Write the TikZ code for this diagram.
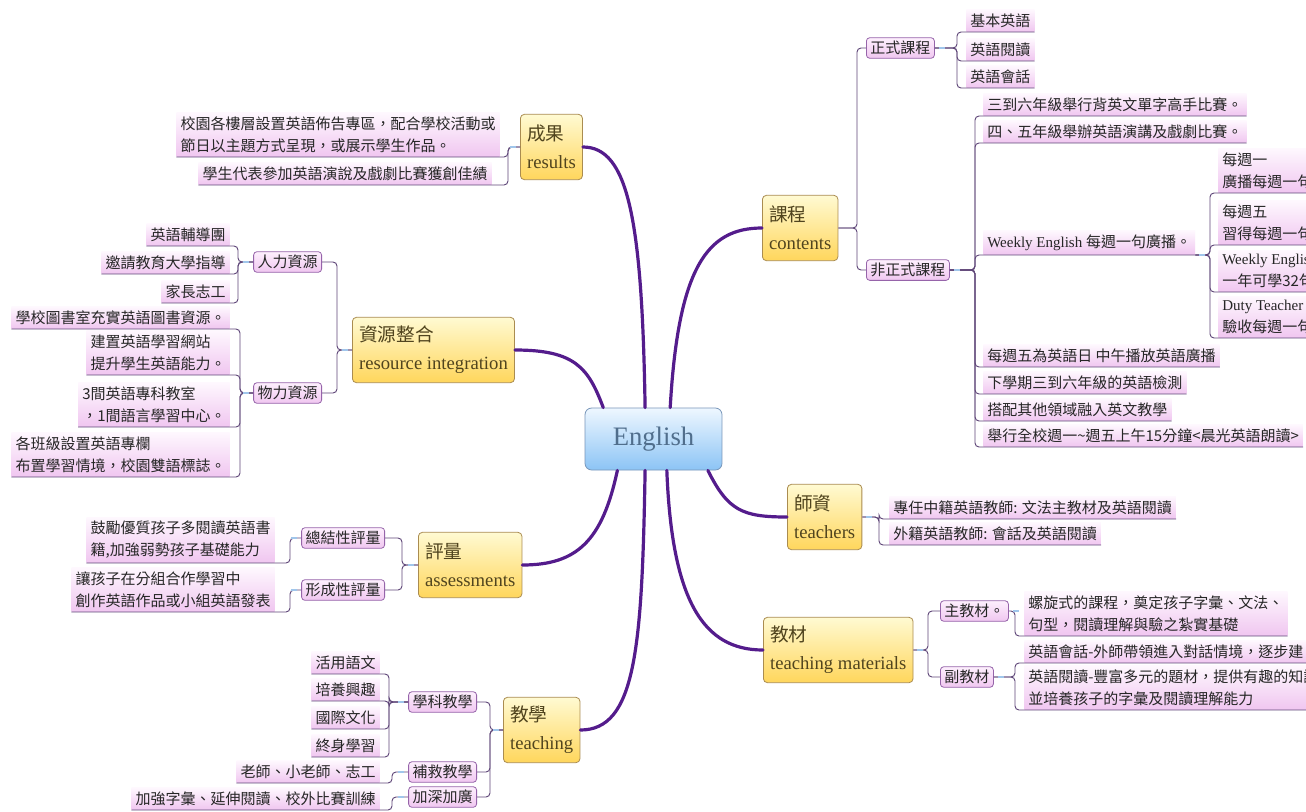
\documentclass[tikz,border=0pt]{standalone}
\usepackage{fontspec}
\setmainfont{Liberation Serif}
\newfontfamily\cjk{Noto Sans CJK TC}
\definecolor{trunk}{RGB}{84,28,140}
\definecolor{brc}{RGB}{95,70,120}
\definecolor{ytop}{RGB}{255,250,210}
\definecolor{ybot}{RGB}{255,214,92}
\definecolor{ybord}{RGB}{170,140,80}
\definecolor{ytext}{RGB}{80,68,30}
\definecolor{ctop}{RGB}{238,247,255}
\definecolor{cbot}{RGB}{140,196,245}
\definecolor{cbord}{RGB}{120,150,185}
\definecolor{ctext}{RGB}{80,110,140}
\definecolor{ptop}{RGB}{253,240,253}
\definecolor{pbot}{RGB}{240,198,240}
\definecolor{sbord}{RGB}{150,100,170}
\definecolor{mkc}{RGB}{160,198,235}
\tikzset{
  trunkline/.style={draw=trunk, line width=2.4pt, line cap=round},
  brline/.style={draw=brc, line width=0.7pt, rounded corners=3pt},
  mk/.style={draw=mkc, line width=2pt},
  ybox/.style={draw=ybord, line width=0.6pt, rounded corners=3pt, top color=ytop, bottom color=ybot,
    align=left, inner xsep=5pt, inner ysep=4pt, minimum height=49pt,
    font=\fontsize{14}{21}\selectfont, text=ytext},
  cbox/.style={draw=cbord, line width=0.6pt, rounded corners=5pt, top color=ctop, bottom color=cbot,
    minimum width=102.75pt, minimum height=46.5pt, font=\fontsize{20}{24}\selectfont, text=ctext},
  sbox/.style={draw=sbord, line width=0.6pt, rounded corners=2.5pt, top color=ptop, bottom color=pbot,
    inner xsep=3pt, inner ysep=2.5pt, font=\cjk\fontsize{11.25}{16}\selectfont, text=black!85},
  leaf/.style={top color=ptop!50, bottom color=pbot, inner xsep=3pt, inner ysep=3pt, align=left,
    font=\cjk\fontsize{11.25}{16.5}\selectfont, text=black!85},
  rleaf/.style={leaf, anchor=south west},
  lleaf/.style={leaf, anchor=south east}
}
\begin{document}
\begin{tikzpicture}[x=0.75pt, y=-0.75pt]
\path[use as bounding box] (0,0) rectangle (1306,811);
\clip (0,0) rectangle (1306,811);
\fill[white] (0,0) rectangle (1306,811);

% ---------- centre and main branches ----------
\node[cbox] (eng) at (653.5,439) {English};
\node[ybox, anchor=west] (ctn) at (762,228) {{\cjk 課程}\\contents};
\node[ybox, anchor=west] (tch) at (787,517) {{\cjk 師資}\\teachers};
\node[ybox, anchor=west] (mat) at (763,650) {{\cjk 教材}\\teaching materials};
\node[ybox, anchor=west] (rlt) at (520,147) {{\cjk 成果}\\results};
\node[ybox, anchor=west] (rsi) at (352,350) {{\cjk 資源整合}\\resource integration};
\node[ybox, anchor=west] (asm) at (418,565) {{\cjk 評量}\\assessments};
\node[ybox, anchor=west] (tea) at (503,730) {{\cjk 教學}\\teaching};

\draw[trunkline] (eng.148) .. controls +(-15,-40) and +(60,0) .. (rsi.east);
\draw[trunkline] (eng.105) .. controls +(-3,-190) and +(45,0) .. (rlt.east);
\draw[trunkline] (eng.62) .. controls +(8,-140) and +(-55,0) .. (ctn.west);
\draw[trunkline] (eng.330) .. controls +(20,40) and +(-45,0) .. (tch.west);
\draw[trunkline] (eng.293) .. controls +(5,130) and +(-60,0) .. (mat.west);
\draw[trunkline] (eng.255) .. controls +(-3,180) and +(55,0) .. (tea.east);
\draw[trunkline] (eng.221) .. controls +(-15,70) and +(55,0) .. (asm.east);

% ---------- contents ----------
\node[sbox, anchor=west] (fml) at (866,48) {正式課程};
\node[sbox, anchor=west] (ifm) at (866,270) {非正式課程};
\draw[brline] (ctn.east) -- (857,228) |- (fml.west);
\draw[brline] (ctn.east) -- (857,228) |- (ifm.west);

\node[rleaf] (f1) at (966,32) {基本英語};
\node[rleaf] (f2) at (966,61) {英語閱讀};
\node[rleaf] (f3) at (966,88) {英語會話};
\foreach \n in {f1,f2,f3}
  \draw[brline] (fml.east) -- (957,48) |- (\n.south west) -- (\n.south east);

\node[rleaf] (i1) at (983,116) {三到六年級舉行背英文單字高手比賽。};
\node[rleaf] (i2) at (983,143) {四、五年級舉辦英語演講及戲劇比賽。};
\node[rleaf] (i3) at (983,255) {{\rmfamily Weekly English }每週一句廣播。};
\node[rleaf] (i4) at (983,367) {每週五為英語日 中午播放英語廣播};
\node[rleaf] (i5) at (983,394) {下學期三到六年級的英語檢測};
\node[rleaf] (i6) at (983,421) {搭配其他領域融入英文教學};
\node[rleaf] (i7) at (983,447) {舉行全校週一\textasciitilde 週五上午15分鐘<晨光英語朗讀>};
\foreach \n in {i1,i2,i3,i4,i5,i6,i7}
  \draw[brline] (ifm.east) -- (975,270) |- (\n.south west) -- (\n.south east);

\node[rleaf] (w1) at (1218,193) {每週一\\廣播每週一句};
\node[rleaf] (w2) at (1218,245) {每週五\\習得每週一句};
\node[rleaf] (w3) at (1218,292) {{\rmfamily Weekly English}\\一年可學32句};
\node[rleaf] (w4) at (1218,338) {{\rmfamily Duty Teacher}\\驗收每週一句};
\foreach \n in {w1,w2,w3,w4}
  \draw[brline] (i3.south east) -- (1210,255) |- (\n.south west) -- (\n.south east);

% ---------- teachers ----------
\node[rleaf] (t1) at (889,519) {專任中籍英語教師: 文法主教材及英語閱讀};
\node[rleaf] (t2) at (889,545) {外籍英語教師: 會話及英語閱讀};
\foreach \n in {t1,t2}
  \draw[brline] (tch.east) -- (879,517) |- (\n.south west) -- (\n.south east);

% ---------- teaching materials ----------
\node[sbox, anchor=west] (mm) at (940,611) {主教材。};
\node[sbox, anchor=west] (ms) at (940,677) {副教材};
\draw[brline] (mat.east) -- (928,650) |- (mm.west);
\draw[brline] (mat.east) -- (928,650) |- (ms.west);

\node[rleaf] (m1) at (1024,636) {螺旋式的課程，奠定孩子字彙、文法、\\句型，閱讀理解與驗之紮實基礎};
\node[rleaf] (m2) at (1024,663) {英語會話-外師帶領進入對話情境，逐步建};
\node[rleaf] (m3) at (1024,710) {英語閱讀-豐富多元的題材，提供有趣的知識\\並培養孩子的字彙及閱讀理解能力};
\draw[brline] (mm.east) -- (1015,611) |- (m1.south west) -- (m1.south east);
\foreach \n in {m2,m3}
  \draw[brline] (ms.east) -- (1015,677) |- (\n.south west) -- (\n.south east);

% ---------- results ----------
\node[lleaf] (r1) at (500,157) {校園各樓層設置英語佈告專區，配合學校活動或\\節日以主題方式呈現，或展示學生作品。};
\node[lleaf] (r2) at (492,185) {學生代表參加英語演說及戲劇比賽獲創佳績};
\foreach \n in {r1,r2}
  \draw[brline] (rlt.west) -- (508,147) |- (\n.south east) -- (\n.south west);

% ---------- resource integration ----------
\node[sbox, anchor=east] (hr) at (322,262) {人力資源};
\node[sbox, anchor=east] (mr) at (322,393) {物力資源};
\draw[brline] (rsi.west) -- (337,350) |- (hr.east);
\draw[brline] (rsi.west) -- (337,350) |- (mr.east);

\node[lleaf] (h1) at (230,246) {英語輔導團};
\node[lleaf] (h2) at (230,274) {邀請教育大學指導};
\node[lleaf] (h3) at (230,303) {家長志工};
\foreach \n in {h1,h2,h3}
  \draw[brline] (hr.west) -- (238,262) |- (\n.south east) -- (\n.south west);

\node[lleaf] (p1) at (230,329) {學校圖書室充實英語圖書資源。};
\node[lleaf] (p2) at (230,375) {建置英語學習網站\\提升學生英語能力。};
\node[lleaf] (p3) at (230,427) {3間英語專科教室\\，1間語言學習中心。};
\node[lleaf] (p4) at (230,477) {各班級設置英語專欄\\布置學習情境，校園雙語標誌。};
\foreach \n in {p1,p2,p3,p4}
  \draw[brline] (mr.west) -- (240,393) |- (\n.south east) -- (\n.south west);

% ---------- assessments ----------
\node[sbox, anchor=east] (zj) at (385,538) {總結性評量};
\node[sbox, anchor=east] (xc) at (385,590) {形成性評量};
\draw[brline] (asm.west) -- (402,565) |- (zj.east);
\draw[brline] (asm.west) -- (402,565) |- (xc.east);

\node[lleaf] (a1) at (275,563) {鼓勵優質孩子多閱讀英語書\\籍,加強弱勢孩子基礎能力};
\node[lleaf] (a2) at (275,612) {讓孩子在分組合作學習中\\創作英語作品或小組英語發表};
\draw[brline] (zj.west) -- (290,538) |- (a1.south east) -- (a1.south west);
\draw[brline] (xc.west) -- (290,590) |- (a2.south east) -- (a2.south west);

% ---------- teaching ----------
\node[sbox, anchor=east] (xk) at (477,702) {學科教學};
\node[sbox, anchor=east] (bj) at (477,772) {補救教學};
\node[sbox, anchor=east] (jj) at (477,797) {加深加廣};
\foreach \n in {xk,bj,jj}
  \draw[brline] (tea.west) -- (490,730) |- (\n.east);

\node[lleaf] (k1) at (380,674) {活用語文};
\node[lleaf] (k2) at (380,701) {培養興趣};
\node[lleaf] (k3) at (380,729) {國際文化};
\node[lleaf] (k4) at (380,757) {終身學習};
\foreach \n in {k1,k2,k3,k4}
  \draw[brline] (xk.west) -- (389,702) |- (\n.south east) -- (\n.south west);

\node[lleaf] (b1) at (380,783) {老師、小老師、志工};
\draw[brline] (bj.west) -- (392,772) |- (b1.south east) -- (b1.south west);
\node[lleaf] (j1) at (380,810) {加強字彙、延伸閱讀、校外比賽訓練};
\draw[brline] (jj.west) -- (392,797) |- (j1.south east) -- (j1.south west);

% ---------- small collapse markers ----------
\foreach \n in {fml,ifm,tch,mat,mm,ms}
  \draw[mk] ([xshift=3pt]\n.east) -- ++(6,0);
\draw[mk] ([xshift=3pt]i3.south east) -- ++(6,0);
\foreach \n in {rlt,rsi,hr,mr,asm,zj,xc,tea,xk,bj,jj}
  \draw[mk] ([xshift=-3pt]\n.west) -- ++(-6,0);
\end{tikzpicture}
\end{document}
